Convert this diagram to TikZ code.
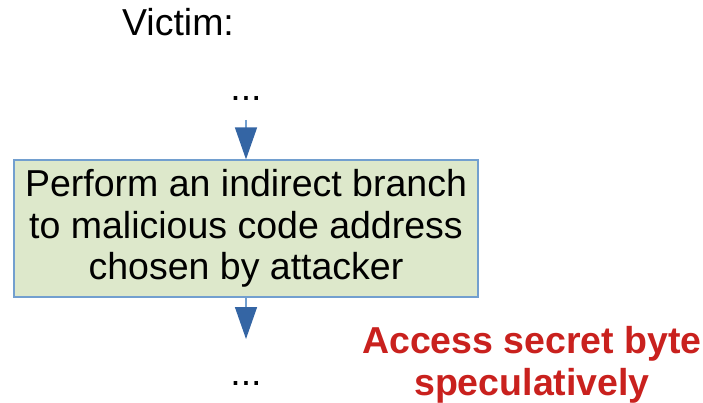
\documentclass[tikz,border=0pt]{standalone}
\usepackage{fontspec}
\setmainfont{Liberation Sans}
\usetikzlibrary{arrows.meta}
\definecolor{boxfill}{HTML}{DDE8CB}
\definecolor{boxline}{HTML}{729FCF}
\definecolor{arrowblue}{HTML}{3465A4}
\definecolor{accred}{HTML}{C9211E}
\begin{document}
\begin{tikzpicture}[x=1pt,y=-1pt,
  txt/.style={font=\fontsize{37.5}{41.5}\selectfont, inner sep=0pt},
  stepbox/.style={draw=boxline, line width=1.2pt, fill=boxfill, minimum width=464pt, minimum height=137pt, align=center, txt},
  flow/.style={draw=boxline, line width=1.5pt, -{Triangle[width=22pt,length=32pt,color=arrowblue]}},
  note/.style={txt, font=\fontsize{37.5}{41.5}\selectfont\bfseries, text=accred, align=center}]
\useasboundingbox (0,0) rectangle (703,403);
\node[txt, anchor=center] (victim) at (178,22) {Victim:};
\node[txt] (dots1) at (246,98) {...};
\node[stepbox] (box) at (246,228.5) {Perform an indirect branch\\to malicious code address\\chosen by attacker};
\node[txt] (dots2) at (246,383) {...};
\coordinate (s1) at (246,120);
\coordinate (e2) at (246,339);
\draw[flow] (s1) -- (box.north);
\draw[flow] (box.south) -- (e2);
\node[note] (acc) at (532,365) {Access secret byte\\speculatively};
\end{tikzpicture}
\end{document}
